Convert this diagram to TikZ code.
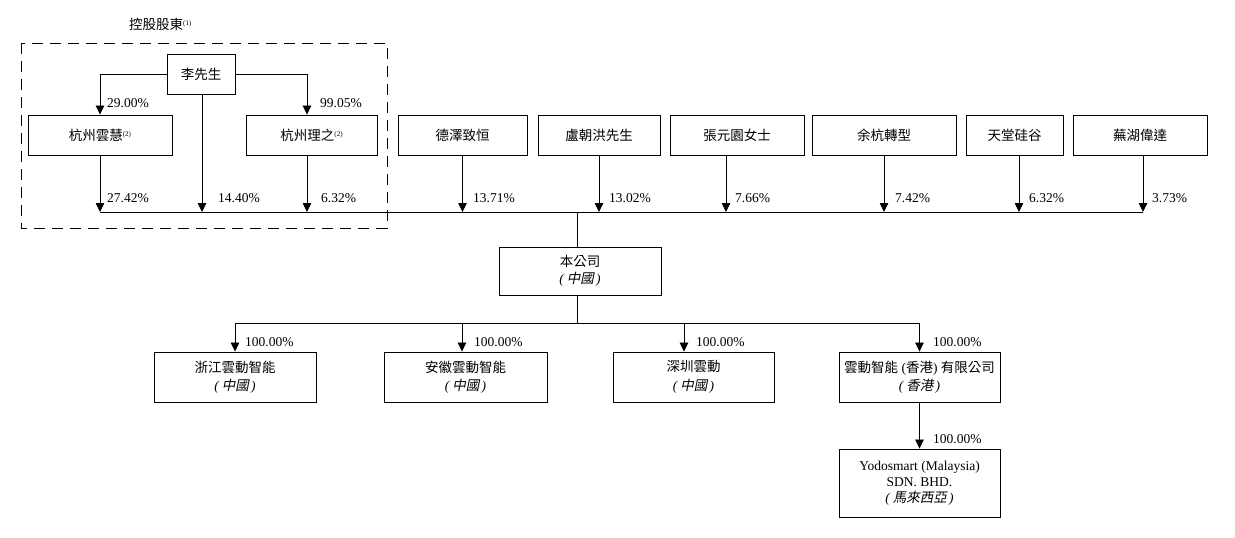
\documentclass[tikz,border=0pt]{standalone}
\usepackage{fontspec}
\setmainfont{Liberation Serif}
\newfontfamily\cjk{Noto Sans CJK TC}
\newfontfamily\cjkit{Noto Sans CJK TC}[FakeSlant=0.2]
\usetikzlibrary{arrows.meta}
\newcommand{\supnote}[1]{\raisebox{4pt}{\fontsize{7}{8}\selectfont(#1)}}
\newcommand{\itparen}[1]{\textit{(}\,{\cjkit #1}\,\textit{)}}
\begin{document}
\begin{tikzpicture}[x=1pt,y=-1pt,
  every node/.style={font=\fontsize{13.5}{18}\selectfont, inner sep=0pt},
  box/.style={draw, line width=0.9pt, align=center},
  ln/.style={line width=0.8pt},
  arr/.style={line width=0.8pt, -{Triangle[width=8.5pt,length=9pt]}},
  pct/.style={anchor=base west},
  dashbox/.style={line width=0.8pt, dash pattern=on 11pt off 7pt}]
\useasboundingbox (0,0) rectangle (1235,538);

% title and dashed frame
\node[anchor=west] (title) at (129,24) {{\cjk 控股股東}\supnote{1}};
\draw[dashbox] (21,43) rectangle (387,228);

% controlling shareholders
\node[box, minimum width=68pt, minimum height=40pt] (li) at (201,74) {\cjk 李先生};
\node[box, minimum width=144pt, minimum height=40pt] (hz) at (100,135) {{\cjk 杭州雲慧}\supnote{2}};
\node[box, minimum width=131pt, minimum height=40pt] (lz) at (311.5,135) {{\cjk 杭州理之}\supnote{2}};

% other shareholders
\node[box, minimum width=129pt, minimum height=40pt] (dz) at (462.5,135) {\cjk 德澤致恒};
\node[box, minimum width=122pt, minimum height=40pt] (lu) at (599,135) {\cjk 盧朝洪先生};
\node[box, minimum width=134pt, minimum height=40pt] (zy) at (737,135) {\cjk 張元園女士};
\node[box, minimum width=144pt, minimum height=40pt] (yh) at (884,135) {\cjk 余杭轉型};
\node[box, minimum width=97pt, minimum height=40pt] (tt) at (1014.5,135) {\cjk 天堂硅谷};
\node[box, minimum width=134pt, minimum height=40pt] (wh) at (1140,135) {\cjk 蕪湖偉達};

% company
\node[box, minimum width=162pt, minimum height=48pt, font=\fontsize{13.5}{17}\selectfont] (co) at (580,271) {{\cjk 本公司}\\\itparen{中國}};

% subsidiaries
\node[box, minimum width=162pt, minimum height=50pt, font=\fontsize{13.5}{18.5}\selectfont] (zj) at (235,377) {{\cjk 浙江雲動智能}\\\itparen{中國}};
\node[box, minimum width=163pt, minimum height=50pt, font=\fontsize{13.5}{18.5}\selectfont] (ah) at (465.5,377) {{\cjk 安徽雲動智能}\\\itparen{中國}};
\node[box, minimum width=161pt, minimum height=50pt, font=\fontsize{13.5}{18.5}\selectfont] (sz) at (693.5,377) {{\cjk 深圳雲動}\\\itparen{中國}};
\node[box, minimum width=161pt, minimum height=50pt, font=\fontsize{13.5}{18.5}\selectfont] (hk) at (919.5,377) {{\cjk 雲動智能} ({\cjk 香港}) {\cjk 有限公司}\\\itparen{香港}};
\node[box, minimum width=161pt, minimum height=68pt, font=\fontsize{13.5}{16.2}\selectfont] (my) at (919.5,483) {Yodosmart (Malaysia)\\SDN. BHD.\\\itparen{馬來西亞}};

% bus coordinates
\coordinate (bus) at (577,212);
\coordinate (bus2) at (577,323);

% offset connector starts
\coordinate (lzN) at ([xshift=-4.5pt]lz.north);
\coordinate (lzS) at ([xshift=-4.5pt]lz.south);
\coordinate (liS) at ([xshift=1pt]li.south);
\coordinate (zyS) at ([xshift=-11pt]zy.south);
\coordinate (ttS) at ([xshift=4.5pt]tt.south);
\coordinate (whS) at ([xshift=3pt]wh.south);
\coordinate (szN) at ([xshift=-9.5pt]sz.north);
\coordinate (ahN) at ([xshift=-3.5pt]ah.north);

% Li to holding companies
\draw[arr] (li.west) -| (hz.north);
\draw[arr] (li.east) -| (lzN);

% down to bus
\draw[arr] (hz.south) -- (hz.south |- bus);
\draw[arr] (liS) -- (liS |- bus);
\draw[arr] (lzS) -- (lzS |- bus);
\draw[arr] (dz.south) -- (dz.south |- bus);
\draw[arr] (lu.south) -- (lu.south |- bus);
\draw[arr] (zyS) -- (zyS |- bus);
\draw[arr] (yh.south) -- (yh.south |- bus);
\draw[arr] (ttS) -- (ttS |- bus);
\draw[arr] (whS) -- (whS |- bus);
\draw[ln] (hz.south |- bus) -- (whS |- bus);
\draw[ln] (bus) -- (bus |- co.north);

% company to subsidiaries
\draw[ln] (bus |- co.south) -- (bus2);
\draw[ln] (zj.north |- bus2) -- (hk.north |- bus2);
\draw[arr] (zj.north |- bus2) -- (zj.north);
\draw[arr] (ahN |- bus2) -- (ahN);
\draw[arr] (szN |- bus2) -- (szN);
\draw[arr] (hk.north |- bus2) -- (hk.north);
\draw[arr] (hk.south) -- (my.north);

% percentages
\node[pct] (p1) at (107,107) {29.00\%};
\node[pct] (p2) at (320,107) {99.05\%};
\node[pct] (p3) at (107,202) {27.42\%};
\node[pct] (p4) at (218,202) {14.40\%};
\node[pct] (p5) at (321,202) {6.32\%};
\node[pct] (p6) at (473,202) {13.71\%};
\node[pct] (p7) at (609,202) {13.02\%};
\node[pct] (p8) at (735,202) {7.66\%};
\node[pct] (p9) at (895,202) {7.42\%};
\node[pct] (p10) at (1029,202) {6.32\%};
\node[pct] (p11) at (1152,202) {3.73\%};
\node[pct] (q1) at (245,346) {100.00\%};
\node[pct] (q2) at (474,346) {100.00\%};
\node[pct] (q3) at (696,346) {100.00\%};
\node[pct] (q4) at (933,346) {100.00\%};
\node[pct] (q5) at (933,443) {100.00\%};
\end{tikzpicture}
\end{document}
